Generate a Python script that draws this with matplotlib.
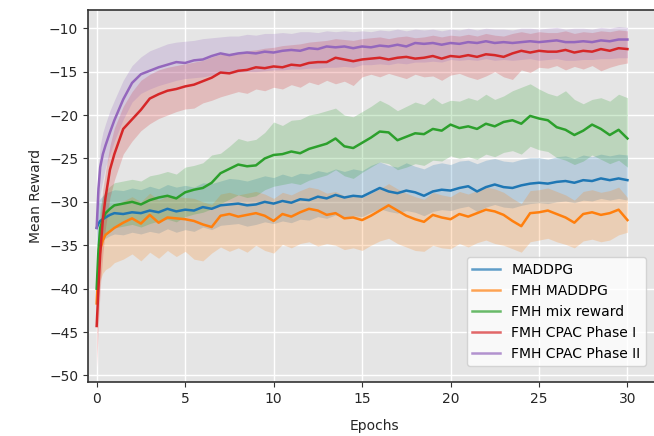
import matplotlib
matplotlib.use('Agg')
import matplotlib.pyplot as plt
import numpy as np

epochs = [0, 0.1, 0.2, 0.35, 0.5, 0.75] + [1 + 0.5 * i for i in range(59)]

labels = ['MADDPG', 'FMH MADDPG', 'FMH mix reward', 'FMH CPAC Phase I', 'FMH CPAC Phase II']
colors = ['tab:blue', 'tab:orange', 'tab:green', 'tab:red', 'tab:purple']

maddpg_mean = [-33, -32.5, -32.2, -32.0, -31.8, -31.5, -31.3, -31.4, -31.2, -31.3, -31.0, -31.2, -30.8, -31.1,
               -30.9, -31.0, -30.6, -30.8, -30.4, -30.3, -30.2, -30.4, -30.3, -30.0, -30.2, -29.9, -30.1, -29.7,
               -29.8, -29.4, -29.6, -29.2, -29.5, -29.3, -29.4, -28.9, -28.4, -28.8, -29.0, -28.7, -28.9, -29.3,
               -28.8, -28.6, -28.7, -28.4, -28.2, -28.8, -28.3, -28.0, -28.3, -28.4, -28.1, -27.9, -27.8, -27.9,
               -27.7, -27.6, -27.8, -27.5, -27.6, -27.3, -27.5, -27.3, -27.5]
maddpg_hi = [-31, -30.0, -29.6, -29.3, -29.0, -28.8, -28.6, -28.7, -28.4, -28.6, -28.2, -28.5, -28.0, -28.3,
             -28.1, -28.3, -27.8, -27.9, -27.6, -27.3, -27.4, -27.6, -27.3, -27.0, -27.2, -26.8, -27.1, -26.7,
             -26.8, -26.4, -26.6, -26.2, -26.5, -26.2, -26.4, -25.8, -25.4, -25.8, -26.0, -25.5, -25.9, -26.2,
             -25.7, -25.5, -25.7, -25.3, -25.2, -25.6, -25.2, -25.0, -25.3, -25.4, -25.1, -24.9, -24.9, -25.1,
             -24.8, -24.7, -25.0, -24.6, -24.8, -24.5, -24.7, -24.5, -24.6]
maddpg_lo = [-35, -34.8, -34.6, -34.4, -34.2, -33.9, -33.7, -33.8, -33.5, -33.7, -33.4, -33.6, -33.1, -33.5,
             -33.2, -33.4, -32.9, -33.2, -32.7, -32.6, -32.5, -32.8, -32.6, -32.3, -32.5, -32.2, -32.4, -32.0,
             -32.1, -31.7, -31.9, -31.5, -31.8, -31.6, -31.7, -31.2, -30.8, -31.1, -31.3, -31.0, -31.2, -31.6,
             -31.1, -30.9, -31.0, -30.7, -30.5, -31.1, -30.6, -30.3, -30.6, -30.7, -30.4, -30.2, -30.1, -30.2,
             -30.0, -29.9, -30.1, -29.8, -29.9, -29.6, -29.8, -29.6, -29.8]

fmh_mean = [-41.7, -37.5, -35.5, -34.4, -33.8, -33.4, -33.0, -32.4, -31.9, -32.5, -31.5, -32.4, -31.8, -31.9,
            -32.0, -32.2, -32.6, -32.9, -31.6, -31.4, -31.7, -31.5, -31.3, -31.6, -32.2, -31.4, -31.7, -31.2,
            -30.8, -31.0, -31.5, -31.3, -31.9, -31.8, -32.1, -31.6, -31.0, -30.4, -31.0, -31.6, -32.0, -32.3,
            -31.5, -31.8, -32.0, -31.4, -31.7, -31.3, -30.9, -31.1, -31.5, -32.2, -32.8, -31.3, -31.2, -31.0,
            -31.4, -31.8, -32.4, -31.4, -31.2, -31.5, -31.3, -30.9, -32.1]
fmh_hi = [-38.5, -34.5, -32.8, -31.8, -31.3, -30.9, -30.5, -29.9, -29.4, -30.0, -29.0, -29.8, -29.3, -29.4,
          -29.5, -29.6, -30.0, -30.3, -29.1, -28.9, -29.2, -29.0, -28.8, -29.1, -29.6, -28.9, -29.2, -28.7,
          -28.3, -28.5, -29.0, -28.8, -29.3, -29.2, -29.5, -29.0, -28.5, -27.9, -28.5, -29.0, -29.4, -29.7,
          -28.9, -29.2, -29.4, -28.8, -29.1, -28.7, -28.3, -28.5, -28.9, -29.6, -30.2, -28.7, -28.6, -28.4,
          -28.8, -29.2, -29.8, -28.8, -28.6, -28.9, -28.7, -28.3, -29.5]
fmh_lo = [-45, -41, -39, -38.2, -37.8, -37.5, -37.0, -36.6, -36.0, -36.8, -35.8, -36.5, -35.6, -36.3,
          -35.7, -36.6, -36.8, -35.9, -35.2, -35.7, -35.3, -35.8, -35.0, -35.6, -35.9, -34.9, -35.3, -34.8,
          -34.6, -35.1, -34.8, -35.0, -35.5, -35.3, -35.6, -35.0, -34.5, -34.2, -34.8, -35.2, -35.6, -35.7,
          -35.0, -35.3, -35.4, -34.8, -35.2, -34.7, -34.4, -34.8, -35.0, -35.4, -35.8, -34.6, -34.4, -34.2,
          -34.6, -34.9, -35.3, -34.5, -34.3, -34.6, -34.4, -33.8, -33.5]

mix_mean = [-40, -35.5, -33, -32.0, -31.3, -30.8, -30.4, -30.2, -30.0, -30.3, -29.8, -29.5, -29.3, -29.6,
            -28.9, -28.6, -28.4, -27.8, -26.7, -26.2, -25.7, -25.9, -25.8, -25.0, -24.6, -24.5, -24.2, -24.4,
            -23.9, -23.6, -23.3, -22.7, -23.6, -23.8, -23.2, -22.6, -21.9, -22.0, -22.9, -22.5, -22.1, -22.2,
            -21.6, -21.8, -21.1, -21.5, -21.3, -21.6, -21.0, -21.3, -20.8, -20.6, -21.0, -20.1, -20.4, -20.6,
            -21.4, -21.7, -22.3, -21.8, -21.1, -21.6, -22.3, -21.7, -22.7]
mix_hi = [-38, -33, -30.5, -29.3, -28.7, -28.2, -27.8, -27.6, -27.4, -27.6, -27.0, -26.8, -26.5, -26.8,
          -26.0, -25.8, -25.5, -24.6, -24.4, -23.6, -22.7, -23.0, -22.8, -22.0, -20.8, -21.2, -20.6, -20.5,
          -20.0, -19.8, -19.5, -19.2, -20.0, -20.2, -19.6, -19.0, -18.3, -18.8, -19.5, -19.0, -18.5, -18.8,
          -18.0, -18.7, -18.3, -18.4, -18.0, -18.3, -17.6, -18.2, -17.8, -17.2, -16.8, -16.4, -17.0, -17.5,
          -17.8, -17.2, -18.2, -18.7, -18.2, -18.0, -18.4, -17.6, -18.0]
mix_lo = [-42, -38, -35.5, -34.5, -33.8, -33.3, -33.0, -32.8, -32.6, -32.9, -32.5, -32.2, -32.0, -32.3,
          -31.7, -31.4, -31.2, -30.8, -30.2, -29.7, -29.2, -29.5, -29.3, -28.6, -28.2, -28.0, -27.8, -28.0,
          -27.5, -27.2, -26.9, -26.3, -27.0, -27.3, -26.6, -26.0, -25.4, -25.6, -26.3, -26.0, -25.6, -25.8,
          -25.2, -25.3, -24.7, -25.0, -24.8, -25.1, -24.5, -24.8, -24.3, -24.1, -24.5, -23.6, -24.0, -24.2,
          -24.9, -25.2, -25.7, -25.3, -24.6, -25.1, -25.6, -25.2, -26.0]

p1_mean = [-44.3, -40, -36, -32, -29.5, -26.3, -24.5, -21.6, -20.5, -19.4, -18.1, -17.6, -17.2, -17.0,
           -16.7, -16.5, -16.1, -15.7, -15.1, -15.2, -14.9, -14.8, -14.5, -14.6, -14.4, -14.5, -14.2, -14.3,
           -14.0, -13.9, -13.9, -13.4, -13.6, -13.8, -13.6, -13.5, -13.4, -13.6, -13.4, -13.3, -13.5, -13.4,
           -13.2, -13.5, -13.2, -13.3, -13.1, -13.3, -13.0, -13.1, -13.3, -12.9, -12.6, -12.8, -12.6, -12.7,
           -12.7, -12.5, -12.8, -12.6, -12.7, -12.4, -12.6, -12.3, -12.4]
p1_hi = [-40.5, -36, -32, -28.5, -26.5, -23.5, -21.5, -19, -17.3, -16, -15.3, -14.8, -14.5, -14.3,
         -14.1, -13.9, -13.7, -13.3, -13.0, -12.9, -12.8, -12.6, -12.5, -12.3, -12.2, -12.0, -11.9, -11.8,
         -11.6, -11.5, -11.4, -11.2, -11.3, -11.4, -11.2, -11.1, -11.0, -11.2, -11.0, -10.9, -11.1, -11.0,
         -10.8, -11.0, -10.8, -10.9, -10.7, -10.9, -10.6, -10.8, -10.9, -10.6, -10.4, -10.6, -10.4, -10.5,
         -10.5, -10.3, -10.6, -10.4, -10.5, -10.3, -10.4, -10.2, -10.3]
p1_lo = [-49, -44, -40, -36, -33, -29.5, -27.5, -24.5, -23, -21.8, -21, -20.4, -20, -19.6,
         -19.3, -19.2, -18.6, -18.3, -17.9, -17.6, -17.3, -17.5, -17.0, -17.2, -16.8, -17.0, -16.5, -16.8,
         -16.2, -16.5, -16.0, -16.4, -16.1, -16.6, -15.6, -15.3, -15.6, -15.2, -15.5, -15.8, -15.3, -15.6,
         -15.5, -16.0, -15.4, -15.2, -15.6, -15.9, -15.5, -15.0, -15.6, -15.9, -14.8, -15.1, -14.5, -14.6,
         -14.3, -14.8, -14.4, -14.7, -14.3, -14.9, -14.5, -14.2, -14.0]

p2_mean = [-33, -28.5, -26, -24.5, -23.5, -22, -20.6, -18.2, -16.3, -15.3, -14.9, -14.5, -14.2, -13.9,
           -14.0, -13.7, -13.6, -13.2, -12.9, -13.1, -12.9, -12.8, -12.9, -12.7, -12.8, -12.6, -12.5, -12.6,
           -12.3, -12.4, -12.1, -12.2, -12.1, -12.3, -12.1, -12.2, -12.0, -12.1, -11.9, -12.1, -11.7, -11.8,
           -11.7, -11.9, -11.7, -11.8, -11.6, -11.7, -11.5, -11.7, -11.6, -11.7, -11.6, -11.5, -11.6, -11.5,
           -11.4, -11.6, -11.6, -11.5, -11.6, -11.4, -11.5, -11.3, -11.3]
p2_hi = [-31, -26, -23.5, -22, -21, -19.5, -18.3, -16, -14.3, -13.3, -12.6, -12.2, -11.8, -11.6,
         -11.5, -11.4, -11.2, -11.1, -11.0, -10.9, -10.9, -10.7, -10.8, -10.6, -10.6, -10.5, -10.6, -10.4,
         -10.4, -10.5, -10.3, -10.4, -10.3, -10.4, -10.3, -10.4, -10.2, -10.3, -10.1, -10.3, -10.1, -10.2,
         -10.1, -10.3, -10.1, -10.2, -10.0, -10.2, -10.0, -10.1, -10.1, -10.2, -10.0, -10.0, -10.1, -10.0,
         -9.9, -10.1, -10.0, -10.0, -10.1, -9.9, -10.0, -9.8, -9.9]
p2_lo = [-35, -31, -29, -27.5, -26, -24.5, -23, -20.5, -18.5, -17.5, -17, -16.6, -16.3, -16.0,
         -15.8, -15.7, -15.6, -15.4, -15.2, -15.2, -15.1, -15.0, -15.0, -14.9, -14.8, -14.8, -14.7, -14.7,
         -14.6, -14.6, -14.5, -14.5, -14.4, -14.5, -14.2, -14.2, -14.1, -14.2, -14.0, -14.1, -13.9, -13.9,
         -13.8, -13.9, -13.6, -13.7, -13.6, -13.7, -13.5, -13.7, -13.6, -13.7, -13.6, -13.5, -13.7, -13.6,
         -13.5, -13.7, -13.7, -13.6, -13.6, -13.5, -13.5, -13.4, -13.4]

series = [(maddpg_mean, maddpg_lo, maddpg_hi),
          (fmh_mean, fmh_lo, fmh_hi),
          (mix_mean, mix_lo, mix_hi),
          (p1_mean, p1_lo, p1_hi),
          (p2_mean, p2_lo, p2_hi)]

fig = plt.figure(figsize=(6.54, 4.36), dpi=100)
# axes run a little past the right edge of the picture, like the cropped original
ax = fig.add_axes([88 / 654, 54 / 436, 572 / 654, 372 / 436])
ax.set_facecolor('#E5E5E5')
ax.grid(color='white', linewidth=1.0)
ax.set_axisbelow(True)

for (m, lo, hi), lab, col in zip(series, labels, colors):
    ax.fill_between(epochs, lo, hi, color=col, alpha=0.22, linewidth=0)
    ax.plot(epochs, m, color=col, linewidth=1.8, label=lab)

ax.set_xlim(-0.49, 31.84)
ax.set_ylim(-50.75, -7.9)
ax.set_xticks([0, 5, 10, 15, 20, 25, 30])
ax.set_yticks([-50, -45, -40, -35, -30, -25, -20, -15, -10])
for s in ax.spines.values():
    s.set_color('#333333')
    s.set_linewidth(1.2)
ax.tick_params(labelsize=10, color='#333333', labelcolor='#262626')

ax.set_xlabel('Epochs', fontsize=10, color='#262626')
ax.set_ylabel('Mean Reward', fontsize=10, color='#262626')
ax.xaxis.set_label_coords((374 - 88) / 572, -0.1)

leg = ax.legend(loc='lower right', bbox_to_anchor=(653 / 654, 63 / 436),
                bbox_transform=fig.transFigure, fontsize=10, framealpha=0.8)
for h in leg.get_lines():
    h.set_alpha(0.7)

fig.savefig('out.png', dpi=100)
